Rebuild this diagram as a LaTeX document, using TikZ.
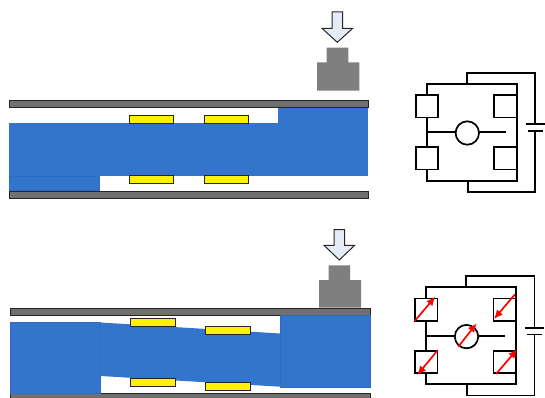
\documentclass[tikz,border=0pt]{standalone}
\usepackage{tikz}
\definecolor{flow}{HTML}{3375CC}
\definecolor{flowedge}{HTML}{2F6CBC}
\definecolor{plate}{HTML}{707070}
\definecolor{weight}{HTML}{7F7F7F}
\definecolor{pressarrow}{HTML}{E6ECF7}
\usetikzlibrary{arrows.meta}
\tikzset{
  plate/.style={fill=plate,draw=black!85,line width=1pt},
  fluid/.style={fill=flow,draw=none},
  fluidpart/.style={fill=flow,draw=flowedge,line width=0.4pt},
  pad/.style={fill=yellow,draw=black!85,line width=1pt},
  load/.style={fill=weight,draw=none},
  press/.style={fill=pressarrow,draw=black!85,line width=1pt,line join=miter},
  wire/.style={draw=black,line width=1.7pt},
  cell/.style={draw=black,line width=1.7pt,fill=white,minimum width=22.5pt,minimum height=22.5pt,inner sep=0pt,outer sep=0pt},
  gauge/.style={circle,draw=black,line width=1.7pt,fill=white,minimum size=23.4pt,inner sep=0pt,outer sep=0pt},
  strain/.style={draw=red,line width=1.7pt,-{Latex[length=9pt,width=8pt]}},
}
\newcommand{\bridgecircuit}{%
  \coordinate (tl) at (426.7,83.7);
  \coordinate (tr) at (516.7,83.7);
  \coordinate (bl) at (426.7,180.7);
  \coordinate (br) at (516.7,180.7);
  \coordinate (tj) at (466.7,83.7);
  \coordinate (bj) at (468,180.7);
  \coordinate (ml) at (426.7,132.2);
  \coordinate (mr) at (506,132.2);
  \coordinate (ot) at (466.7,72.7);
  \coordinate (otr) at (535.3,72.7);
  \coordinate (pa) at (535.3,124.3);
  \coordinate (pb) at (535.3,131);
  \coordinate (obr) at (535.3,192);
  \coordinate (ob) at (468,192);
  \draw[wire] (tl) -- (tr) -- (br) -- (bl) -- cycle;
  \draw[wire] (ml) -- (mr);
  \draw[wire] (tj) -- (ot) -- (otr) -- (pa);
  \draw[wire] (pb) -- (obr) -- (ob) -- (bj);
  \draw[wire] (525.7,124.3) -- (545,124.3);
  \draw[wire] (528,131) -- (542.7,131);
  \node[cell] (rtl) at (427,106.2) {};
  \node[cell] (rbl) at (427,158.3) {};
  \node[cell] (rtr) at (505.5,106.2) {};
  \node[cell] (rbr) at (505.5,158.3) {};
  \node[gauge] (meter) at (467.3,133) {};
}
\begin{document}
\begin{tikzpicture}[x=1pt,y=-1pt]
\useasboundingbox (0,0) rectangle (545,398);
% upper device
\draw[plate] (9.5,101) rectangle (368,107.7);
\draw[plate] (9.5,191) rectangle (368,198);
\fill[fluid] (9,123) rectangle (368,176);
\fill[fluid] (278,108) rectangle (368,123.5);
\path[fluidpart] (9.5,176) rectangle (99,190.5);
\draw[pad] (129,116) rectangle (173.5,123.5);
\draw[pad] (204,116) rectangle (248,123.5);
\draw[pad] (129,175.7) rectangle (173.5,183.3);
\draw[pad] (204,175.7) rectangle (248,183.3);
\fill[load] (326.7,47.7) -- (348.3,47.7) -- (348.3,62.3) -- (359.3,62.3) -- (359.3,90.7) -- (317,90.7) -- (317,62.3) -- (326.7,62.3) -- cycle;
\draw[press] (332,12) -- (342.7,12) -- (342.7,28.3) -- (352.7,28.3) -- (337.3,42.3) -- (322,28.3) -- (332,28.3) -- cycle;
% lower device
\draw[plate] (10.5,308) rectangle (370,315.3);
\draw[plate] (10.5,393.3) rectangle (370,400);
\path[fluidpart] (10.5,322.6) rectangle (100.5,393);
\fill[fluid] (100.5,322.5) -- (280,333.5) -- (280,386.7) -- (100.5,376) -- cycle;
\path[fluidpart] (280,315.5) rectangle (370,386.7);
\draw[pad] (130.5,318.5) rectangle (175.3,326);
\draw[pad] (205,326.5) rectangle (250.3,334);
\draw[pad] (130.5,378.5) rectangle (175.3,386);
\draw[pad] (205,382.5) rectangle (250.3,390.3);
\fill[load] (328.7,265.3) -- (350,265.3) -- (350,280) -- (361,280) -- (361,307.7) -- (319,307.7) -- (319,280) -- (328.7,280) -- cycle;
\draw[press] (334,229.5) -- (344.7,229.5) -- (344.7,245.3) -- (354.7,245.3) -- (339.3,260) -- (324,245.3) -- (334,245.3) -- cycle;
% upper circuit
\begin{scope}
\bridgecircuit
\end{scope}
% lower circuit
\begin{scope}[shift={(-0.8,203.6)}]
\bridgecircuit
\coordinate (a1s) at (415.5,117.4);
\coordinate (a1e) at (436.1,93.1);
\coordinate (a2s) at (515.8,90.7);
\coordinate (a2e) at (494.8,115.4);
\coordinate (a3s) at (438.1,147.1);
\coordinate (a3e) at (418.1,171.4);
\coordinate (a4s) at (496.8,170.4);
\coordinate (a4e) at (518.1,145.7);
\coordinate (a5s) at (459.1,143.1);
\coordinate (a5e) at (477.5,119.7);
\draw[strain] (a1s) -- (a1e);
\draw[strain] (a2s) -- (a2e);
\draw[strain] (a3s) -- (a3e);
\draw[strain] (a4s) -- (a4e);
\draw[strain] (a5s) -- (a5e);
\end{scope}
\end{tikzpicture}
\end{document}
